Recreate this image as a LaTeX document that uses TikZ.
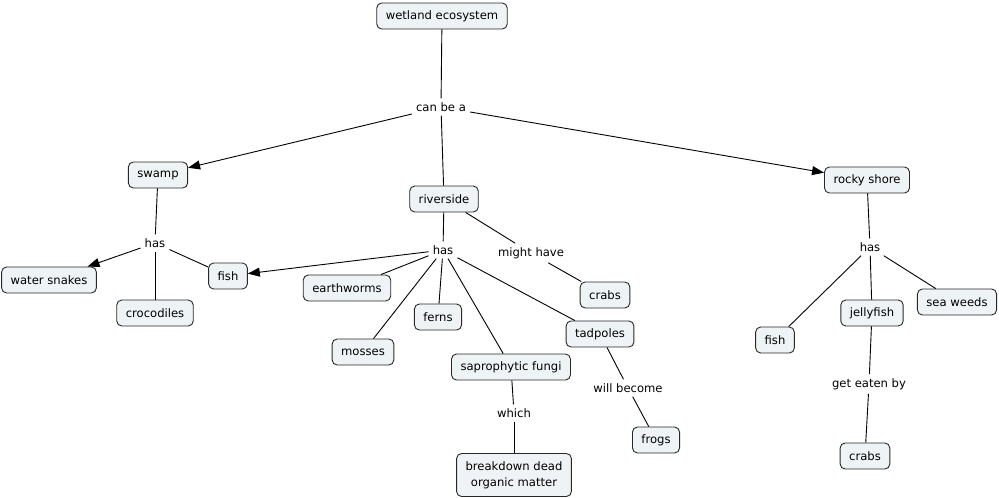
\documentclass[tikz,border=0pt]{standalone}
\usepackage{fontspec}
\setmainfont{DejaVu Sans}
\usetikzlibrary{arrows.meta}
\definecolor{boxfill}{RGB}{238,243,245}
\definecolor{boxline}{RGB}{40,40,40}
\begin{document}
\begin{tikzpicture}[x=1pt,y=-1pt,
  concept/.style={draw=boxline,fill=boxfill,rounded corners=5pt,line width=0.9pt,
    inner xsep=9pt,inner ysep=0pt,minimum height=26pt,font=\fontsize{11.6}{16}\selectfont,align=center},
  phrase/.style={inner sep=4pt,font=\fontsize{11.6}{13.5}\selectfont},
  link/.style={line width=0.9pt,draw=black},
  arr/.style={link,-{Triangle[length=12pt,width=9pt]}}]
\useasboundingbox (0,0) rectangle (999,498);
% concepts
\node[concept] (wet) at (442,16) {wetland ecosystem};
\node[concept] (swamp) at (158,175) {swamp};
\node[concept] (river) at (444,199) {riverside};
\node[concept] (rocky) at (867,180) {rocky shore};
\node[concept] (snakes) at (49,280) {water snakes};
\node[concept] (fishL) at (228,276) {fish};
\node[concept] (croc) at (155,313) {crocodiles};
\node[concept] (worms) at (347,288) {earthworms};
\node[concept] (ferns) at (438,317) {ferns};
\node[concept] (mosses) at (363,352) {mosses};
\node[concept] (fungi) at (511,367) {saprophytic fungi};
\node[concept] (tad) at (600,334) {tadpoles};
\node[concept] (crabsM) at (605,295) {crabs};
\node[concept] (frogs) at (656,440) {frogs};
\node[concept,minimum height=43pt] (decay) at (514,475) {breakdown dead\\organic matter};
\node[concept] (fishR) at (775,340) {fish};
\node[concept] (jelly) at (872,313) {jellyfish};
\node[concept] (weeds) at (957,302) {sea weeds};
\node[concept] (crabsR) at (865,456) {crabs};
% linking phrases
\node[phrase] (canbe) at (441,107) {can be a};
\node[phrase] (hasS) at (155,243) {has};
\node[phrase] (hasR) at (443,250) {has};
\node[phrase] (might) at (531,253) {might have};
\node[phrase] (which) at (514,413) {which};
\node[phrase] (will) at (628,388) {will become};
\node[phrase] (hasK) at (870,247) {has};
\node[phrase] (eaten) at (869,384) {get eaten by};
% connectors
\draw[link] (wet) -- (canbe);
\draw[arr] (canbe) -- (swamp);
\draw[link] (canbe) -- (river);
\draw[arr] (canbe) -- (rocky);
\draw[link] (swamp) -- (hasS);
\draw[arr] (hasS) -- (snakes);
\draw[link] (hasS) -- (croc);
\draw[link] (hasS) -- (fishL);
\draw[link] (river) -- (hasR);
\draw[arr] (hasR) -- (fishL);
\draw[link] (hasR) -- (worms);
\draw[link] (hasR) -- (ferns);
\draw[link] (hasR) -- (mosses);
\draw[link] (hasR) -- (fungi);
\draw[link] (hasR) -- (tad);
\draw[link] (river) -- (might);
\draw[link] (might) -- (crabsM);
\draw[link] (fungi) -- (which);
\draw[link] (which) -- (decay);
\draw[link] (tad) -- (will);
\draw[link] (will) -- (frogs);
\draw[link] (rocky) -- (hasK);
\draw[link] (hasK) -- (fishR);
\draw[link] (hasK) -- (jelly);
\draw[link] (hasK) -- (weeds);
\draw[link] (jelly) -- (eaten);
\draw[link] (eaten) -- (crabsR);
\end{tikzpicture}
\end{document}
